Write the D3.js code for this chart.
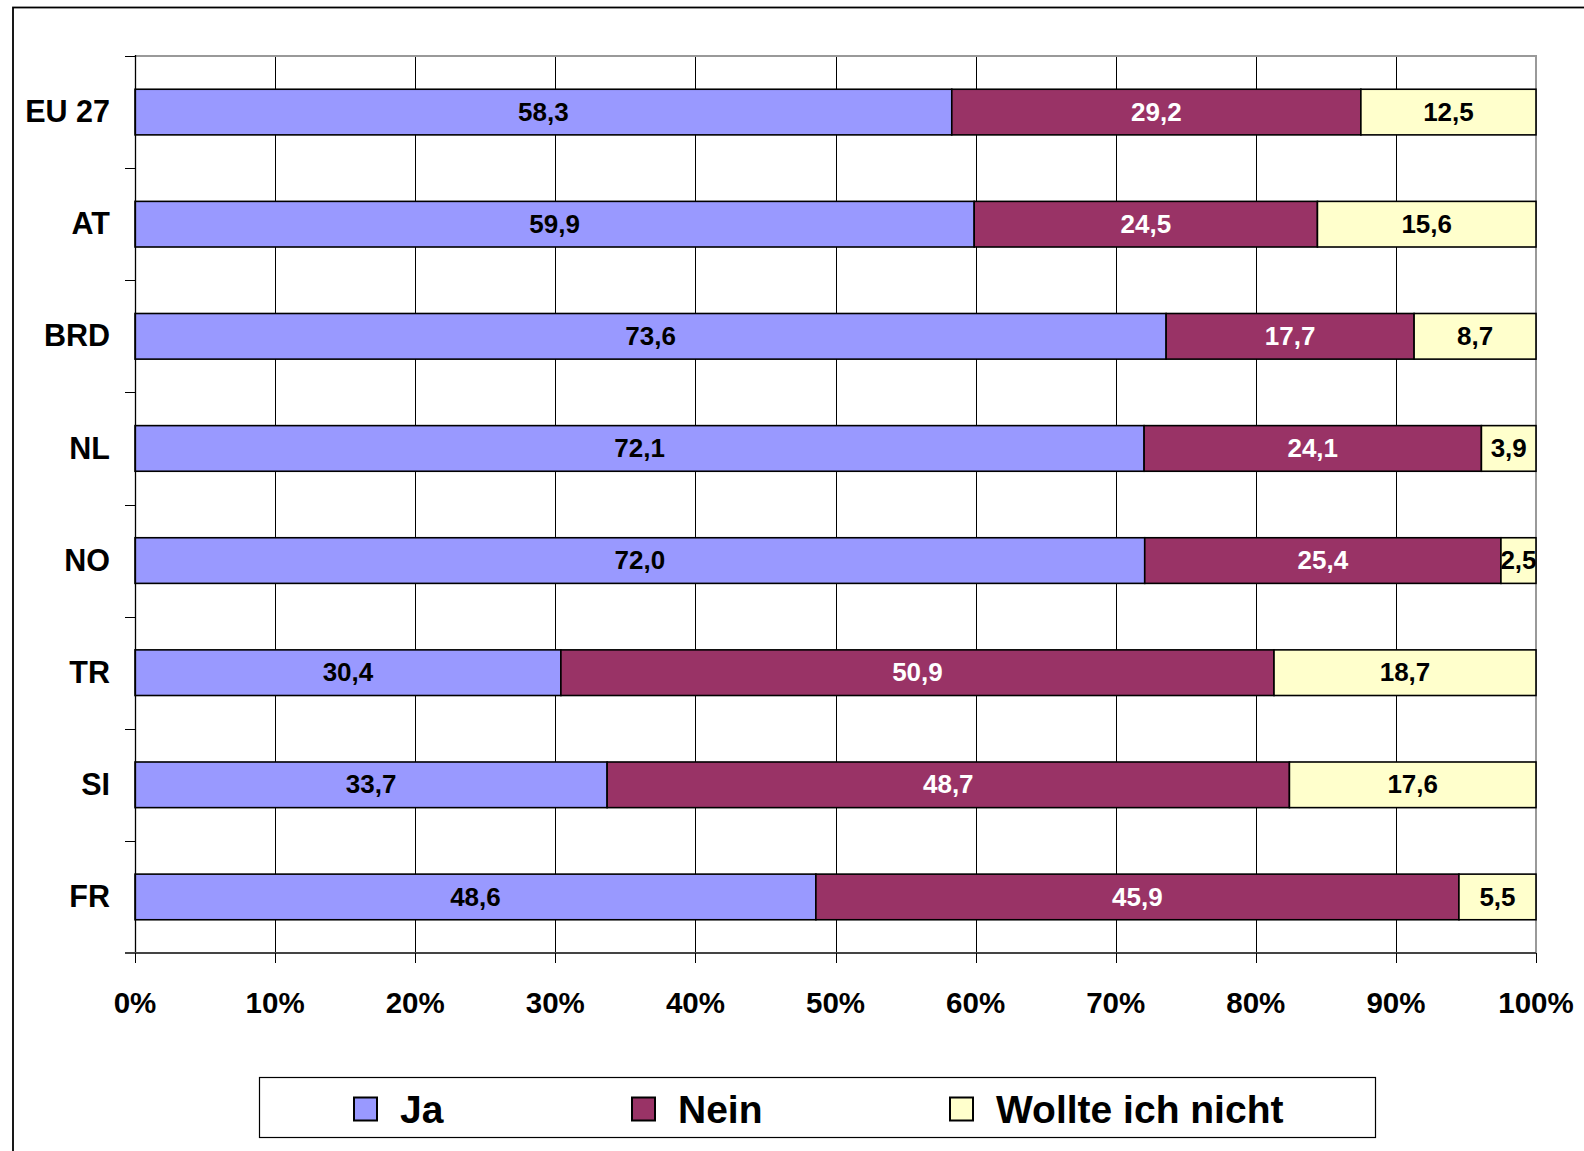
<!DOCTYPE html>
<html>
<head>
<meta charset="utf-8">
<script src="https://cdn.jsdelivr.net/npm/d3@7"></script>
<style>
  html, body { margin: 0; padding: 0; background: #fff; }
  svg { display: block; font-family: "Liberation Sans", Arial, sans-serif; font-weight: bold; }
</style>
</head>
<body>
<svg id="chart" width="1584" height="1151"></svg>
<script>
// Survey answers per country, percent of respondents
const categories = ["EU 27", "AT", "BRD", "NL", "NO", "TR", "SI", "FR"];
const seriesNames = ["Ja", "Nein", "Wollte ich nicht"];
const ja     = [58.3, 59.9, 73.6, 72.1, 72.0, 30.4, 33.7, 48.6];
const nein   = [29.2, 24.5, 17.7, 24.1, 25.4, 50.9, 48.7, 45.9];
const wollte = [12.5, 15.6,  8.7,  3.9,  2.5, 18.7, 17.6,  5.5];
const tickValues = [0, 0.1, 0.2, 0.3, 0.4, 0.5, 0.6, 0.7, 0.8, 0.9, 1];

const colors = ["#9999FF", "#993366", "#FFFFCC"];
const labelColors = ["#000", "#fff", "#000"];

const rows = categories.map((c, i) => ({
  cat: c, "Ja": ja[i], "Nein": nein[i], "Wollte ich nicht": wollte[i]
}));

const svg = d3.select("#chart");
const plot = { left: 135, right: 1536, top: 56, bottom: 953 };

// outer frame
svg.append("rect")
  .attr("x", 13).attr("y", 7.5).attr("width", 1700).attr("height", 1300)
  .attr("fill", "none").attr("stroke", "#000").attr("stroke-width", 1.8);

const x = d3.scaleLinear().domain([0, 1]).range([plot.left, plot.right]);
const y = d3.scaleBand().domain(categories).range([plot.top, plot.bottom])
  .paddingInner(0.593).paddingOuter(0.2965);
const yRows = d3.scaleBand().domain(categories).range([plot.top, plot.bottom]);

// 100% stacked layout
const stack = d3.stack().keys(seriesNames).offset(d3.stackOffsetExpand);
const layers = stack(rows);

// vertical gridlines
svg.append("g").selectAll("line")
  .data(tickValues.slice(1, -1))
  .join("line")
  .attr("x1", d => Math.round(x(d)) + 0.5).attr("x2", d => Math.round(x(d)) + 0.5)
  .attr("y1", plot.top).attr("y2", plot.bottom)
  .attr("stroke", "#000").attr("stroke-width", 1);

// plot area top/right border
svg.append("path")
  .attr("d", `M${plot.left},${plot.top} H${plot.right} V${plot.bottom}`)
  .attr("fill", "none").attr("stroke", "#999").attr("stroke-width", 2);

// bars
const fmt = v => d3.format(".1f")(v).replace(".", ",");
layers.forEach((layer, si) => {
  const g = svg.append("g");
  g.selectAll("rect")
    .data(layer)
    .join("rect")
    .attr("x", d => x(d[0]))
    .attr("y", d => y(d.data.cat))
    .attr("width", d => x(d[1]) - x(d[0]))
    .attr("height", y.bandwidth())
    .attr("fill", colors[si])
    .attr("stroke", "#000").attr("stroke-width", 1.6);
  g.selectAll("text")
    .data(layer)
    .join("text")
    .attr("x", d => (x(d[0]) + x(d[1])) / 2)
    .attr("y", d => y(d.data.cat) + y.bandwidth() / 2)
    .attr("dy", "0.33em")
    .attr("text-anchor", "middle")
    .attr("font-size", 26)
    .attr("fill", labelColors[si])
    .text(d => fmt(d.data[seriesNames[si]]));
});

// y axis
const yAxis = svg.append("g");
yAxis.append("line")
  .attr("x1", plot.left + 0.5).attr("x2", plot.left + 0.5)
  .attr("y1", plot.top - 1).attr("y2", plot.bottom)
  .attr("stroke", "#000").attr("stroke-width", 1.3);
const yTickPos = categories.map(c => yRows(c)).concat([plot.bottom]);
yAxis.selectAll("line.tick")
  .data(yTickPos)
  .join("line").attr("class", "tick")
  .attr("x1", plot.left - 10).attr("x2", plot.left)
  .attr("y1", d => Math.round(d) + 0.5).attr("y2", d => Math.round(d) + 0.5)
  .attr("stroke", "#000").attr("stroke-width", 1);
yAxis.selectAll("text")
  .data(categories)
  .join("text")
  .attr("x", 110)
  .attr("y", d => yRows(d) + yRows.bandwidth() / 2)
  .attr("dy", "0.33em")
  .attr("text-anchor", "end")
  .attr("font-size", 30.5)
  .attr("fill", "#000")
  .text(d => d);

// x axis
const xAxis = svg.append("g");
xAxis.append("line")
  .attr("x1", plot.left - 10).attr("x2", plot.right)
  .attr("y1", plot.bottom).attr("y2", plot.bottom)
  .attr("stroke", "#444").attr("stroke-width", 2);
xAxis.selectAll("line.tick")
  .data(tickValues)
  .join("line").attr("class", "tick")
  .attr("x1", d => Math.round(x(d)) + 0.5).attr("x2", d => Math.round(x(d)) + 0.5)
  .attr("y1", plot.bottom).attr("y2", plot.bottom + 10)
  .attr("stroke", "#000").attr("stroke-width", 1);
xAxis.selectAll("text")
  .data(tickValues)
  .join("text")
  .attr("x", d => x(d))
  .attr("y", 1013)
  .attr("text-anchor", "middle")
  .attr("font-size", 29.5)
  .attr("fill", "#000")
  .text(d => d3.format(".0%")(d));

// legend
const legend = svg.append("g");
legend.append("rect")
  .attr("x", 259.5).attr("y", 1077.5).attr("width", 1116).attr("height", 60)
  .attr("fill", "#fff").attr("stroke", "#000").attr("stroke-width", 1.2);
const legendX = [354, 632, 950];
seriesNames.forEach((name, i) => {
  legend.append("rect")
    .attr("x", legendX[i]).attr("y", 1097.5).attr("width", 23).attr("height", 23)
    .attr("fill", colors[i]).attr("stroke", "#000").attr("stroke-width", 2);
  legend.append("text")
    .attr("x", legendX[i] + 46)
    .attr("y", 1123)
    .attr("font-size", 39)
    .attr("fill", "#000")
    .text(name);
});
</script>
</body>
</html>
